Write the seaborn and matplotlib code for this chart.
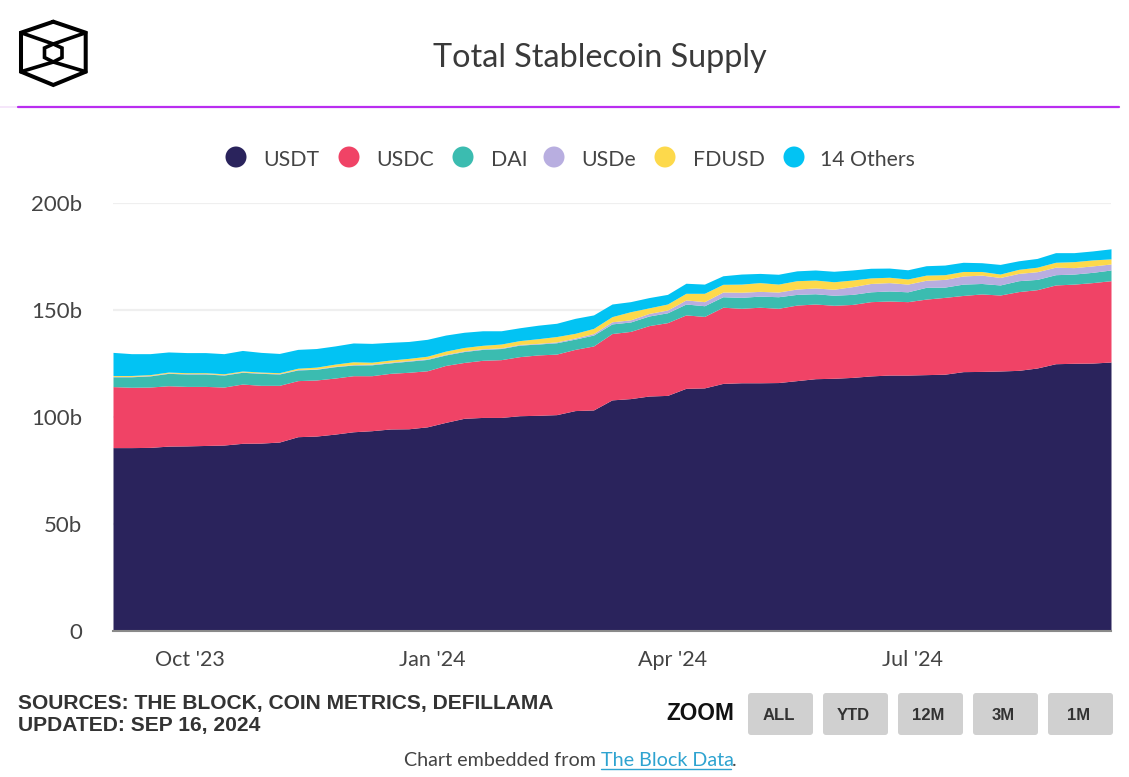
# -*- coding: utf-8 -*-
import pandas as pd
import matplotlib.pyplot as plt
import matplotlib.dates as mdates
from matplotlib.patches import Circle, FancyBboxPatch
import seaborn as sns

# weekly readings, in billions
dates = pd.date_range("2023-09-02", periods=55, freq="7D")
usdt = [85.7, 85.7, 85.8, 86.4, 86.5, 86.7, 86.9, 87.7, 87.8, 88.3, 90.8, 91.1, 92.0, 93.1,
        93.6, 94.4, 94.5, 95.4, 97.5, 99.4, 99.8, 99.8, 100.6, 100.8, 101.1, 103.0, 103.3, 108.0,
        108.6, 109.8, 110.1, 113.4, 113.6, 115.7, 116.0, 116.0, 116.1, 117.0, 117.9, 118.1, 118.5,
        119.2, 119.6, 119.6, 119.8, 120.0, 121.2, 121.3, 121.5, 121.8, 122.9, 124.9, 125.1, 125.2, 125.7]
usdc = [28.5, 28.2, 28.2, 28.2, 27.8, 27.6, 27.1, 27.7, 27.0, 26.5, 26.2, 26.2, 26.2, 26.2,
        25.7, 26.0, 26.4, 26.2, 26.6, 26.1, 26.7, 27.0, 27.6, 28.2, 28.3, 28.6, 29.9, 31.0,
        31.4, 32.9, 34.0, 34.3, 33.4, 35.6, 34.8, 35.3, 34.7, 35.3, 34.9, 34.1, 34.1,
        34.7, 34.6, 34.3, 35.3, 35.9, 35.6, 36.2, 35.5, 36.8, 36.6, 36.8, 37.0, 37.6, 38.0]
dai = [4.6, 4.9, 5.2, 5.8, 5.8, 5.8, 5.6, 5.5, 5.6, 5.3, 5.0, 5.0, 5.3, 5.0,
       5.1, 4.9, 5.2, 5.3, 4.9, 5.1, 5.1, 5.2, 5.4, 5.1, 5.3, 4.8, 5.1, 4.5,
       4.4, 4.5, 4.6, 5.1, 5.0, 4.9, 5.1, 5.2, 5.4, 5.0, 4.8, 4.7, 4.7,
       4.6, 4.7, 4.6, 5.5, 4.8, 5.3, 4.9, 4.7, 5.1, 4.8, 4.8, 4.7, 4.8, 5.0]
usde = [0.2, 0.2, 0.2, 0.2, 0.2, 0.2, 0.2, 0.2, 0.2, 0.2, 0.2, 0.2, 0.2, 0.2,
        0.3, 0.3, 0.3, 0.3, 0.3, 0.3, 0.3, 0.3, 0.3, 0.3, 0.4, 0.5, 0.7, 1.0,
        1.0, 1.2, 1.3, 1.9, 1.9, 2.2, 2.4, 2.2, 2.2, 2.5, 2.7, 2.8, 3.6,
        3.9, 3.9, 3.6, 3.3, 3.6, 3.8, 3.9, 3.5, 3.4, 3.6, 3.5, 3.0, 3.0, 2.8]
fdusd = [0.4, 0.4, 0.4, 0.4, 0.4, 0.4, 0.4, 0.4, 0.4, 0.4, 0.6, 0.8, 1.0, 1.3,
         0.9, 1.0, 1.0, 1.2, 1.5, 1.6, 1.6, 1.8, 1.8, 2.2, 2.5, 2.2, 2.4, 2.4,
         3.8, 2.6, 2.8, 3.1, 3.9, 3.6, 3.8, 4.1, 3.7, 3.9, 3.7, 3.5, 3.1,
         2.6, 2.5, 2.4, 2.4, 2.2, 2.1, 1.7, 1.6, 1.9, 2.1, 2.3, 2.8, 2.8, 2.4]
others = [10.8, 10.2, 9.8, 9.4, 9.4, 9.4, 9.4, 9.6, 9.2, 9.0, 8.8, 8.7, 8.5, 8.8,
          8.8, 8.3, 7.9, 7.9, 7.5, 7.1, 6.8, 6.2, 6.0, 6.3, 6.2, 7.0, 6.3, 5.9,
          4.7, 4.8, 4.5, 4.7, 4.3, 4.0, 4.7, 4.3, 4.6, 4.6, 4.7, 4.9, 4.7,
          4.5, 4.3, 4.3, 4.4, 4.5, 4.3, 4.1, 4.5, 4.0, 4.1, 4.5, 4.2, 4.2, 4.7]

coins = ["USDT", "USDC", "DAI", "USDe", "FDUSD", "14 Others"]
colors = ["#2a235c", "#f04366", "#3bbcb0", "#b8aee0", "#fdd94b", "#02c3f3"]
ytick_vals = [0, 50, 100, 150, 200]
ytick_labels = ["0", "50b", "100b", "150b", "200b"]
xtick_dates = ["2023-10-01", "2024-01-01", "2024-04-01", "2024-07-01"]
xtick_labels = ["Oct '23", "Jan '24", "Apr '24", "Jul '24"]
zoom_buttons = ["ALL", "YTD", "12M", "3M", "1M"]

W, H = 1129, 777
sns.set_theme(style="white")
plt.rcParams["font.family"] = ["Lato", "DejaVu Sans"]

fig = plt.figure(figsize=(W / 100, H / 100), dpi=100, facecolor="white")

# overlay in pixel coords for header, legend and footer furniture
deco = fig.add_axes([0, 0, 1, 1])
deco.set_xlim(0, W)
deco.set_ylim(H, 0)
deco.axis("off")

ax = fig.add_axes([113 / W, 1 - 631 / H, 998 / W, 428 / H])
ax.patch.set_alpha(0)

df = pd.DataFrame({"date": mdates.date2num(dates), "USDT": usdt, "USDC": usdc, "DAI": dai,
                   "USDe": usde, "FDUSD": fdusd, "14 Others": others})
long_df = df.melt(id_vars="date", var_name="coin", value_name="supply")

x = df["date"].values
sns.histplot(data=long_df, x="date", weights="supply", hue="coin", hue_order=coins[::-1],
             palette=dict(zip(coins, colors)), multiple="stack", element="poly",
             binwidth=7, binrange=(x[0] - 3.5, x[-1] + 3.5),
             alpha=1, linewidth=0, legend=False, ax=ax)

ax.set_xlim(x[0], x[-1])
ax.set_ylim(0, 200)
ax.set_xlabel("")
ax.set_ylabel("")
ax.set_yticks(ytick_vals)
ax.set_yticklabels(ytick_labels, fontsize=16, color="#444444")
ax.set_xticks(mdates.date2num(pd.to_datetime(xtick_dates)))
ax.set_xticklabels(xtick_labels, fontsize=15.5, color="#444444")
ax.tick_params(axis="y", length=0, pad=22)
ax.tick_params(axis="x", length=0, pad=13.5)
ax.grid(axis="y", color="#efefef", lw=1.6)
ax.set_axisbelow(True)
sns.despine(ax=ax, left=True, top=True, right=True)
ax.spines["bottom"].set_color("#8a8a8a")
ax.spines["bottom"].set_linewidth(1.5)

# logo
hex_x = [53.3, 85.7, 85.7, 53.3, 21, 21, 53.3]
hex_y = [21.7, 32.7, 71.7, 85, 71.7, 32.7, 21.7]
deco.plot(hex_x, hex_y, color="black", lw=2.9, solid_joinstyle="miter")
deco.plot([53.3, 62, 62, 53.3, 44.5, 44.5, 53.3], [44, 48, 57.5, 62, 57.5, 48, 44],
          color="black", lw=2.6, solid_joinstyle="miter")
deco.plot([21, 53.3, 85.7], [32.7, 44, 32.7], color="black", lw=2.6)
deco.plot([21, 53.3, 85.7], [71.7, 62, 71.7], color="black", lw=2.6)

deco.text(600, 58, "Total Stablecoin Supply", ha="center", va="center", fontsize=23.3, color="#3a3a3a")
deco.plot([0, 18], [106.5, 106.5], color="#f3e2fa", lw=1.2)
deco.plot([18, 1119], [106.5, 106.5], color="#b92df0", lw=1.6)

# legend
dot_x = [236, 349, 463, 554, 665, 794]
label_x = [263, 376, 491, 581, 693, 820]
for name, col, dx, lx in zip(coins, colors, dot_x, label_x):
    deco.add_patch(Circle((dx, 157), 10.5, color=col, lw=0))
    deco.text(lx, 160, name, ha="left", va="center", fontsize=15.3, color="#444444")

# footer
deco.text(18, 703, "SOURCES: THE BLOCK, COIN METRICS, DEFILLAMA", ha="left", va="center", fontsize=15.1,
          fontweight="bold", family="Liberation Sans", color="#333333")
deco.text(18, 726, "UPDATED: SEP 16, 2024", ha="left", va="center", fontsize=15.1,
          fontweight="bold", family="Liberation Sans", color="#333333")
deco.text(700.5, 714, "ZOOM", ha="center", va="center", fontsize=16.3, fontweight="bold",
          family="Liberation Sans", color="#111111")
for i, lab in enumerate(zoom_buttons):
    bx = 748 + i * 75
    deco.add_patch(FancyBboxPatch((bx + 2, 695), 61, 38, boxstyle="round,pad=2,rounding_size=3",
                                  facecolor="#d0d0d0", edgecolor="none"))
    deco.text(bx + 30.5, 716, lab, ha="center", va="center", fontsize=12, fontweight="bold",
              family="Liberation Sans", color="#333333")

deco.text(601, 760, "Chart embedded from ", ha="right", va="center", fontsize=14.2, color="#444444")
deco.text(601, 760, "The Block Data", ha="left", va="center", fontsize=14.2, color="#2ea3d0")
deco.plot([601, 731], [768.5, 768.5], color="#2ea3d0", lw=1)
deco.text(732, 760, ".", ha="left", va="center", fontsize=14.2, color="#444444")

fig.savefig("out.png", dpi=100)
